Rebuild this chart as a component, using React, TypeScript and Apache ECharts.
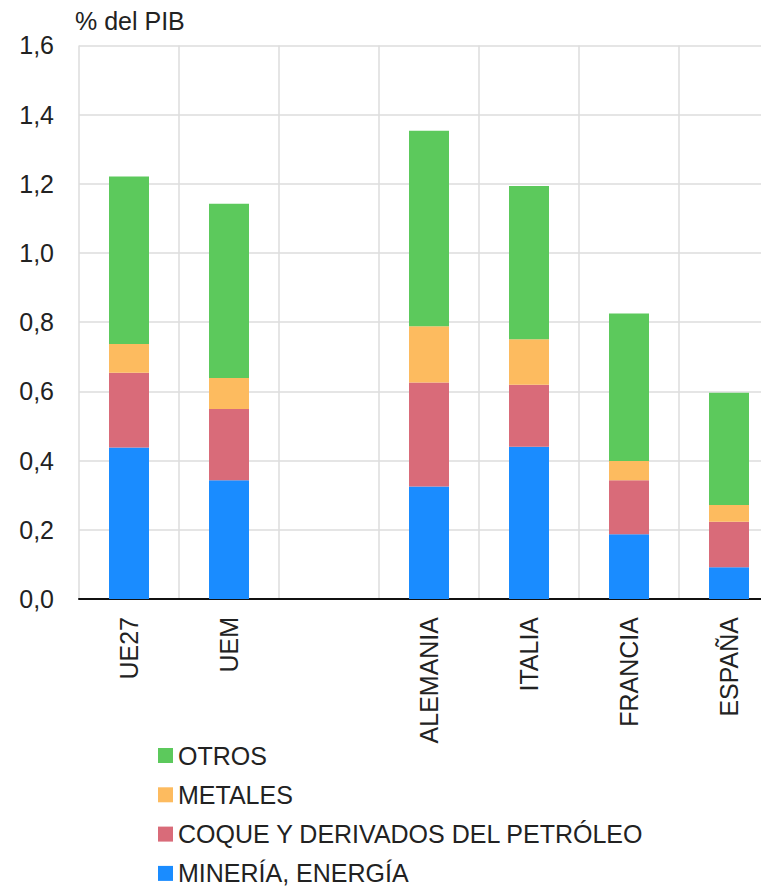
import React, { useEffect, useRef } from "react";
import * as echarts from "echarts";

const categories = ["UE27", "UEM", "", "ALEMANIA", "ITALIA", "FRANCIA", "ESPAÑA"];
const mineriaEnergia = [0.438, 0.343, null, 0.325, 0.44, 0.187, 0.092];
const coquePetroleo = [0.216, 0.206, null, 0.301, 0.179, 0.156, 0.131];
const metales = [0.083, 0.09, null, 0.162, 0.132, 0.056, 0.049];
const otros = [0.484, 0.503, null, 0.565, 0.443, 0.426, 0.324];
const seriesNames = ["MINERÍA, ENERGÍA", "COQUE Y DERIVADOS DEL PETRÓLEO", "METALES", "OTROS"];
const legendOrder = ["OTROS", "METALES", "COQUE Y DERIVADOS DEL PETRÓLEO", "MINERÍA, ENERGÍA"];
const colors = ["#1a8cff", "#d96b79", "#fdbb5f", "#5cc95c"];

const FONT = "'Liberation Sans', Arial, Helvetica, sans-serif";

export default function App() {
  const ref = useRef<HTMLDivElement>(null);
  useEffect(() => {
    document.body.style.margin = "0";
    document.body.style.overflow = "hidden";
    document.documentElement.style.overflow = "hidden";
    const chart = echarts.init(ref.current!, null, { renderer: "svg" });
    const dataSets = [mineriaEnergia, coquePetroleo, metales, otros];
    chart.setOption({
      animation: false,
      textStyle: { fontFamily: FONT },
      title: {
        text: "% del PIB",
        left: 70,
        top: 3,
        textStyle: { fontSize: 25, fontWeight: "normal", color: "#222", fontFamily: FONT },
      },
      legend: {
        orient: "vertical",
        left: 158,
        top: 743,
        height: 146,
        padding: 0,
        itemWidth: 15,
        itemHeight: 15,
        itemGap: 14.3,
        icon: "rect",
        data: legendOrder,
        textStyle: { fontSize: 25, color: "#222", fontFamily: FONT },
      },
      grid: { left: 79, right: 3, top: 45.4, bottom: 290, containLabel: false },
      xAxis: {
        type: "category",
        data: categories,
        axisLine: { show: true, lineStyle: { color: "#111", width: 2 } },
        axisTick: { show: false },
        splitLine: { show: true, lineStyle: { color: "#dcdcdc", width: 1.5 } },
        axisLabel: {
          rotate: 90,
          margin: 18,
          fontSize: 25,
          color: "#222",
          fontFamily: FONT,
          interval: 0,
        },
      },
      yAxis: {
        type: "value",
        min: 0,
        max: 1.6,
        interval: 0.2,
        axisLine: { show: false },
        axisTick: { show: false },
        splitLine: { show: true, lineStyle: { color: "#dcdcdc", width: 1.5 } },
        axisLabel: {
          margin: 25,
          fontSize: 25,
          color: "#222",
          fontFamily: FONT,
          formatter: (v: number) => v.toFixed(1).replace(".", ","),
        },
      },
      series: seriesNames.map((name, i) => ({
        name,
        type: "bar",
        stack: "total",
        barWidth: 40,
        itemStyle: { color: colors[i] },
        data: dataSets[i],
      })),
    });
    return () => chart.dispose();
  }, []);
  return <div ref={ref} style={{ width: 782, height: 889 }} />;
}
